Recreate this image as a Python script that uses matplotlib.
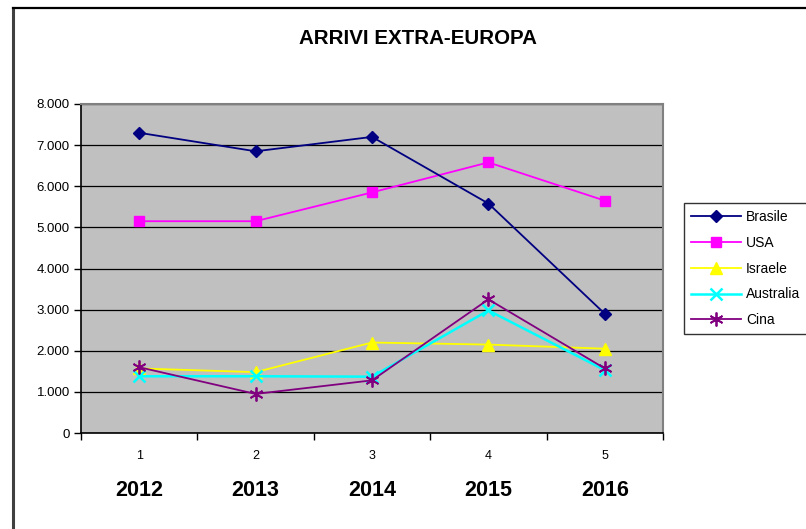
import numpy as np
import matplotlib
matplotlib.use('Agg')
import matplotlib.pyplot as plt
from matplotlib.lines import Line2D
from matplotlib.ticker import FuncFormatter
from matplotlib import transforms

plt.rcParams['font.family'] = ['Liberation Sans', 'DejaVu Sans']

positions = [1, 2, 3, 4, 5]
years = ['2012', '2013', '2014', '2015', '2016']
brasile = [7300, 6850, 7200, 5580, 2900]
usa = [5150, 5150, 5850, 6580, 5650]
israele = [1570, 1480, 2200, 2150, 2050]
australia = [1380, 1380, 1370, 2980, 1530]
cina = [1600, 950, 1280, 3250, 1570]

fig = plt.figure(figsize=(8.06, 5.29), dpi=100)
fig.patch.set_facecolor('white')
ax = fig.add_axes([81/806, 96/529, 582/806, 329/529])
ax.set_facecolor('#C0C0C0')

ax.plot(positions, brasile, color='#000080', marker='D', ms=6, lw=1.3, label='Brasile', zorder=5)
ax.plot(positions, usa, color='#FF00FF', marker='s', ms=7, lw=1.3, label='USA', zorder=4)
ax.plot(positions, israele, color='#FFFF00', marker='^', ms=8, lw=1.3, label='Israele', zorder=3)
ax.plot(positions, australia, color='#00FFFF', marker='x', ms=8, mew=1.8, lw=1.8, label='Australia', zorder=3)
ax.plot(positions, cina, color='#800080', marker=(6, 2, 0), ms=10, mew=1.3, lw=1.3, label='Cina', zorder=4)

ax.set_xlim(0.5, 5.5)
ax.set_ylim(0, 8000)
ax.set_yticks(np.arange(0, 8001, 1000))
ax.yaxis.set_major_formatter(FuncFormatter(lambda v, p: f"{int(v):,}".replace(',', '.')))
ax.yaxis.grid(True, color='black', lw=0.9)
ax.set_axisbelow(True)
ax.set_xticks(positions)
ax.set_xticklabels(['1', '2', '3', '4', '5'])
ax.set_xticks(np.arange(0.5, 5.6, 1), minor=True)
ax.tick_params(axis='x', which='major', length=0, pad=12, labelsize=9)
ax.tick_params(axis='x', which='minor', length=5, width=1, direction='out')
ax.tick_params(axis='y', length=5, width=1, direction='out', labelsize=9.5, pad=3)

for s in ['left', 'bottom']:
    ax.spines[s].set_color('black')
    ax.spines[s].set_linewidth(1.2)
for s in ['top', 'right']:
    ax.spines[s].set_color('#808080')
    ax.spines[s].set_linewidth(1.5)

trans = transforms.blended_transform_factory(ax.transData, fig.transFigure)
for x, yr in zip(positions, years):
    ax.text(x, 1 - 490/529, yr, transform=trans, ha='center', va='center',
            fontsize=15.5, fontweight='bold')

fig.text(418/806, 1 - 38/529, 'ARRIVI EXTRA-EUROPA', ha='center', va='center',
         fontsize=14.8, fontweight='bold')

leg = fig.legend(loc='upper left', bbox_to_anchor=(684/806, 1 - 203/529),
                 frameon=True, fancybox=False, edgecolor='black', fontsize=10,
                 handlelength=3.6, borderpad=0.5, labelspacing=0.85, handletextpad=0.35,
                 borderaxespad=0)
leg.get_frame().set_linewidth(1.0)

fig.add_artist(Line2D([13/806, 13/806], [0, 1 - 8/529], color='#404040', lw=2.2))
fig.add_artist(Line2D([13/806, 1], [1 - 8/529, 1 - 8/529], color='black', lw=1.6))

fig.savefig('out.png', dpi=100)
